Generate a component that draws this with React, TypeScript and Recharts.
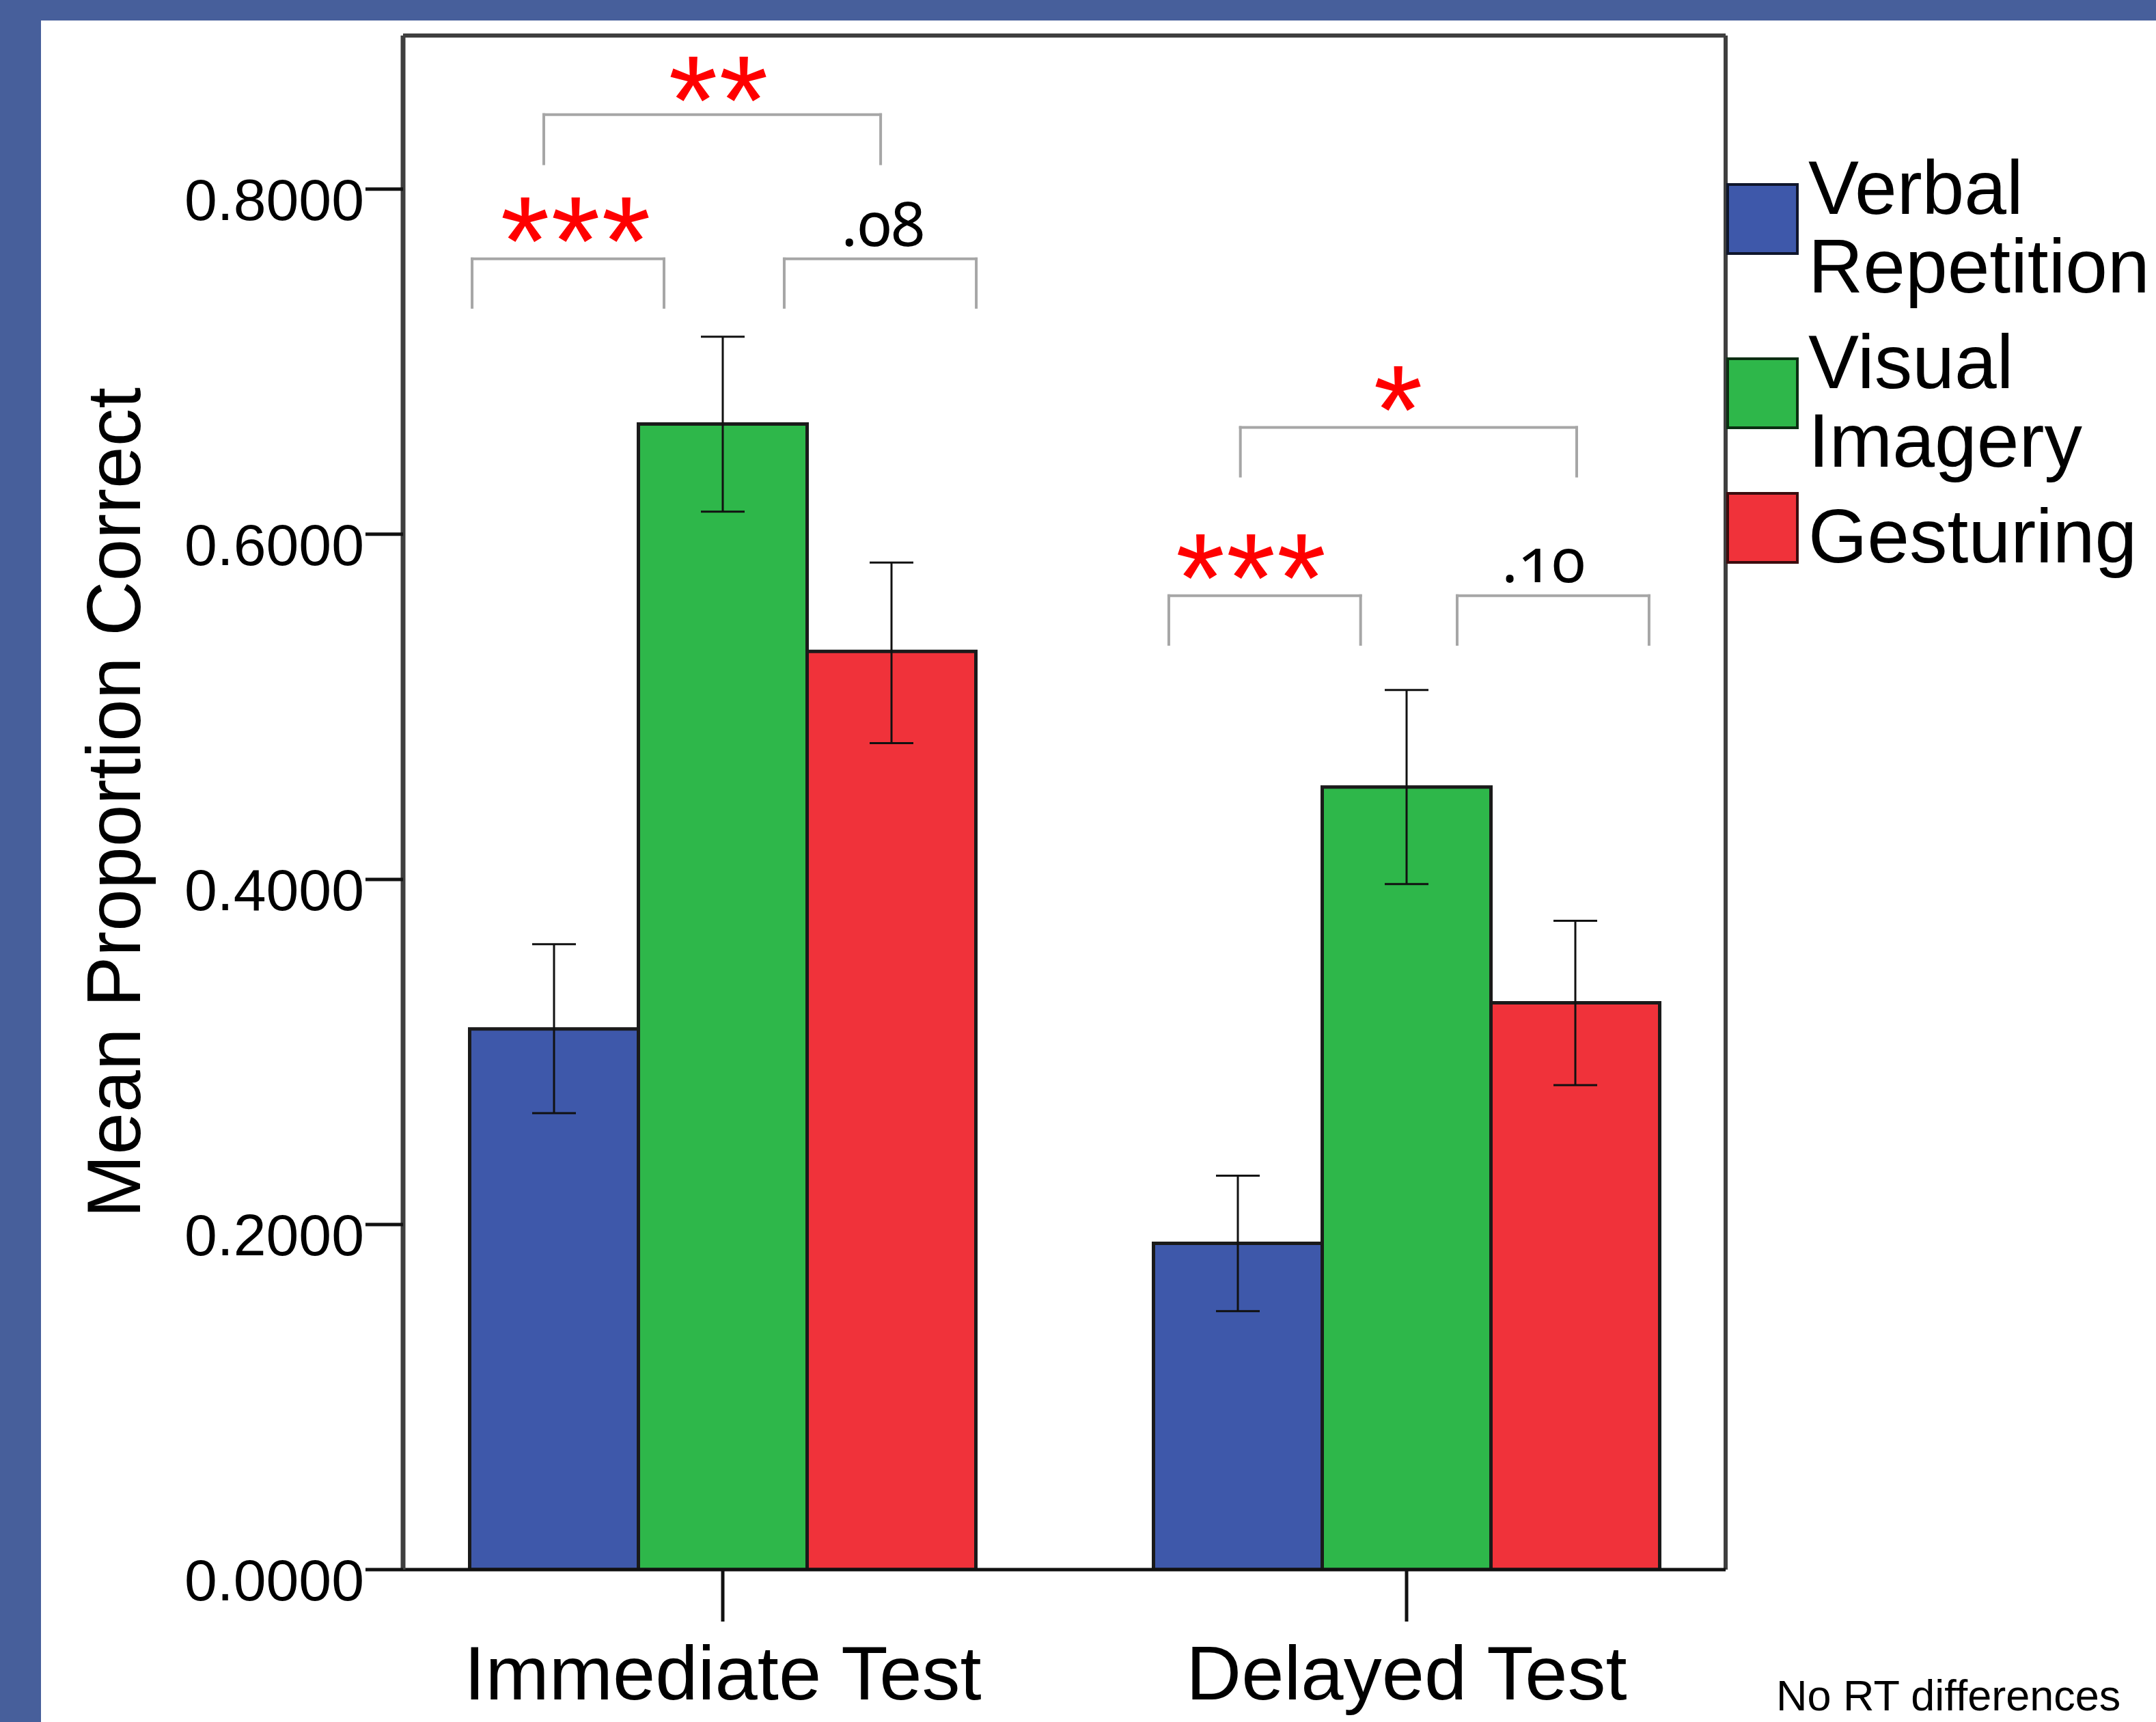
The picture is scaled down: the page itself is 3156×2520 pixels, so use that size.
import React from 'react';
import {
  BarChart, Bar, XAxis, YAxis, ErrorBar, Legend, ReferenceLine, ReferenceDot,
} from 'recharts';

const FONT = '"Liberation Sans", Arial, sans-serif';
const BLUE_FRAME = '#475f9b';

const CATEGORIES = ['Immediate Test', 'Delayed Test'];
const SERIES = ['Verbal Repetition', 'Visual Imagery', 'Gesturing'];
const COLORS = ['#3e58aa', '#2eb74a', '#f0323a'];

// mean proportion correct
const VERBAL = [0.3133, 0.1891];
const VISUAL = [0.6639, 0.4535];
const GESTURE = [0.5321, 0.3285];

// error bar ends
const VERBAL_LO = [0.2645, 0.1498];
const VERBAL_HI = [0.3624, 0.2283];
const VISUAL_LO = [0.6131, 0.3973];
const VISUAL_HI = [0.7145, 0.5097];
const GESTURE_LO = [0.479, 0.2808];
const GESTURE_HI = [0.5836, 0.376];

const Y_TICKS = [0, 0.2, 0.4, 0.6, 0.8];
const Y_MAX = 0.889;

// annotations use a hidden x axis running 0..1 across the plot frame
// significance brackets: left, right, bar height, leg end
const BRACKETS = [
  [0.1064, 0.3611, 0.8432, 0.8147],
  [0.0522, 0.1973, 0.7596, 0.7315],
  [0.2882, 0.4334, 0.7596, 0.7315],
  [0.6331, 0.8874, 0.6619, 0.6337],
  [0.579, 0.724, 0.5644, 0.5362],
  [0.797, 0.9421, 0.5644, 0.5362],
];

// significance marks: x, baseline, text
const MARKS: Array<[number, number, string]> = [
  [0.2389, 0.8261, '**'],
  [0.1309, 0.7445, '***'],
  [0.3629, 0.7671, '.08'],
  [0.7528, 0.6467, '*'],
  [0.6415, 0.5493, '***'],
  [0.8623, 0.5723, '.10'],
];

const data = CATEGORIES.map((test, i) => ({
  test,
  verbal: VERBAL[i],
  verbalErr: [VERBAL[i] - VERBAL_LO[i], VERBAL_HI[i] - VERBAL[i]],
  visual: VISUAL[i],
  visualErr: [VISUAL[i] - VISUAL_LO[i], VISUAL_HI[i] - VISUAL[i]],
  gesture: GESTURE[i],
  gestureErr: [GESTURE[i] - GESTURE_LO[i], GESTURE_HI[i] - GESTURE[i]],
}));

const XTick = ({ x, y, payload }: any) => (
  <text x={x} y={y + 114} textAnchor="middle" fontFamily={FONT} fontSize={112} fill="#000">
    {payload.value}
  </text>
);

const YTick = ({ x, y, payload }: any) => (
  <text x={x} y={y + 45} textAnchor="end" fontFamily={FONT} fontSize={86} fill="#000">
    {Number(payload.value).toFixed(4)}
  </text>
);

const YTitle = (props: any) => {
  const vb = props.viewBox || { x: 290, y: 52, width: 300, height: 2245 };
  const x = vb.x - 85;
  const y = vb.y + vb.height / 2;
  return (
    <text x={x} y={y} transform={`rotate(-90 ${x} ${y})`} textAnchor="middle"
      fontFamily={FONT} fontSize={111} fill="#000">
      Mean Proportion Correct
    </text>
  );
};

const markLabel = (text: string) => (props: any) => {
  const { x, y } = props.viewBox;
  const isStar = text.includes('*');
  return (
    <text x={x} y={y} textAnchor="middle"
      fontFamily={isStar ? FONT : '"Noto Sans", sans-serif'}
      fontSize={isStar ? 185 : 90}
      letterSpacing={isStar ? 2 : 0}
      style={isStar ? undefined : { fontVariantNumeric: 'oldstyle-nums' }}
      fill={isStar ? '#ff0000' : '#000'}>
      {text}
    </text>
  );
};

const renderLegend = ({ payload }: any) => {
  const items = [...(payload || [])].sort(
    (a: any, b: any) => SERIES.indexOf(a.value) - SERIES.indexOf(b.value),
  );
  return (
    <div style={{ fontFamily: FONT, fontSize: 111, lineHeight: '115px', color: '#000' }}>
      {items.map((entry: any, i: number) => (
        <div key={entry.value} style={{ display: 'flex', alignItems: 'center', marginTop: i ? 25 : 0 }}>
          <div style={{
            width: 106, height: 105, boxSizing: 'border-box', flex: 'none',
            background: entry.color, border: '4px solid rgba(0,0,0,0.75)', marginTop: -26,
          }} />
          <div style={{ marginLeft: 14 }}>
            {String(entry.value).split(' ').map((w) => <div key={w}>{w}</div>)}
          </div>
        </div>
      ))}
    </div>
  );
};

const BRACKET_STROKE = { stroke: '#a6a6a6', strokeWidth: 4, strokeLinecap: 'square' as const };
const BAR_STROKE = { stroke: '#1a1a1a', strokeWidth: 5 };

export default function App() {
  return (
    <div style={{ position: 'absolute', left: 0, top: 0, width: 3156, height: 2520, background: BLUE_FRAME, overflow: 'hidden' }}>
      <div style={{ position: 'absolute', left: 60, top: 30, right: 0, bottom: 0, background: '#fff' }} />
      <div style={{ position: 'absolute', left: 0, top: 0 }}>
        <BarChart
          width={3156}
          height={2520}
          data={data}
          margin={{ top: 52, right: 630, bottom: 23, left: 290 }}
          barGap={0}
        >
          <Bar dataKey="verbal" name={SERIES[0]} fill={COLORS[0]} {...BAR_STROKE} barSize={247} isAnimationActive={false}>
            <ErrorBar dataKey="verbalErr" width={32} stroke="#111" strokeWidth={3} isAnimationActive={false} />
          </Bar>
          <Bar dataKey="visual" name={SERIES[1]} fill={COLORS[1]} {...BAR_STROKE} barSize={247} isAnimationActive={false}>
            <ErrorBar dataKey="visualErr" width={32} stroke="#111" strokeWidth={3} isAnimationActive={false} />
          </Bar>
          <Bar dataKey="gesture" name={SERIES[2]} fill={COLORS[2]} {...BAR_STROKE} barSize={247} isAnimationActive={false}>
            <ErrorBar dataKey="gestureErr" width={32} stroke="#111" strokeWidth={3} isAnimationActive={false} />
          </Bar>

          <XAxis
            dataKey="test"
            height={200}
            padding={{ left: -32.5, right: -33.5 }}
            axisLine={{ stroke: '#111', strokeWidth: 5 }}
            tickLine={{ stroke: '#111', strokeWidth: 5 }}
            tickSize={76}
            tickMargin={0}
            tick={<XTick />}
            interval={0}
          />
          <XAxis xAxisId="ann" type="number" domain={[0, 1]} allowDataOverflow hide />
          <YAxis
            width={300}
            domain={[0, Y_MAX]}
            ticks={Y_TICKS}
            allowDataOverflow
            axisLine={{ stroke: '#3f3f3f', strokeWidth: 7 }}
            tickLine={{ stroke: '#111', strokeWidth: 5 }}
            tickSize={55}
            tickMargin={2}
            tick={<YTick />}
            label={{ content: YTitle }}
          />

          <ReferenceLine y={Y_MAX} stroke="#3f3f3f" strokeWidth={6} ifOverflow="visible" />
          <ReferenceLine xAxisId="ann" x={1} stroke="#3f3f3f" strokeWidth={6} ifOverflow="visible" />

          {BRACKETS.map(([l, r, top, leg], i) => (
            <React.Fragment key={`br-${i}`}>
              <ReferenceLine xAxisId="ann" segment={[{ x: l, y: leg }, { x: l, y: top }]} {...BRACKET_STROKE} ifOverflow="visible" />
              <ReferenceLine xAxisId="ann" segment={[{ x: l, y: top }, { x: r, y: top }]} {...BRACKET_STROKE} ifOverflow="visible" />
              <ReferenceLine xAxisId="ann" segment={[{ x: r, y: top }, { x: r, y: leg }]} {...BRACKET_STROKE} ifOverflow="visible" />
            </React.Fragment>
          ))}
          {MARKS.map(([u, y, text], i) => (
            <ReferenceDot key={`mk-${i}`} xAxisId="ann" x={u} y={y} r={0} fill="none" stroke="none"
              ifOverflow="visible" label={{ content: markLabel(text) }} />
          ))}

          <Legend
            layout="vertical"
            align="center"
            verticalAlign="middle"
            width={629}
            wrapperStyle={{ left: 2527, top: 218 }}
            content={renderLegend}
          />
        </BarChart>
      </div>
      <div style={{ position: 'absolute', left: 2600, top: 2450, fontFamily: FONT, fontSize: 63, lineHeight: '63px', color: '#000', whiteSpace: 'nowrap' }}>
        No RT differences
      </div>
    </div>
  );
}
